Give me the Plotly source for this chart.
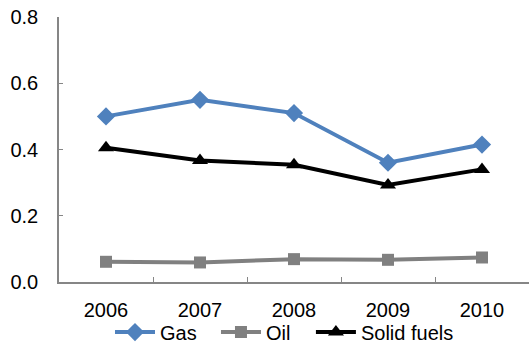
import plotly.graph_objects as go

years = ["2006", "2007", "2008", "2009", "2010"]
gas = [0.50, 0.55, 0.51, 0.36, 0.415]
oil = [0.061, 0.059, 0.069, 0.067, 0.074]
solid = [0.405, 0.367, 0.354, 0.293, 0.340]
y_ticks = [0.0, 0.2, 0.4, 0.6, 0.8]
y_labels = ["0.0", "0.2", "0.4", "0.6", "0.8"]

fig = go.Figure()
fig.add_trace(go.Scatter(x=years, y=gas, name="Gas", mode="lines+markers",
                         line=dict(color="#4F81BD", width=4), legend="legend",
                         marker=dict(symbol="diamond", size=14, color="#4F81BD")))
fig.add_trace(go.Scatter(x=years, y=oil, name="Oil", mode="lines+markers",
                         line=dict(color="#808080", width=4), legend="legend2",
                         marker=dict(symbol="square", size=12, color="#808080")))
fig.add_trace(go.Scatter(x=years, y=solid, name="Solid fuels", mode="lines+markers",
                         line=dict(color="#000000", width=4), legend="legend3",
                         marker=dict(symbol="triangle-up", size=14, color="#000000")))

leg = dict(orientation="h", xanchor="left", y=-0.189, yanchor="middle",
           font=dict(size=20), itemwidth=40, bgcolor="rgba(0,0,0,0)")

fig.update_layout(
    width=530, height=345,
    margin=dict(l=59, r=1, t=17, b=63, autoexpand=False),
    paper_bgcolor="white", plot_bgcolor="white",
    font=dict(family="Liberation Sans, Arial, sans-serif", size=20, color="black"),
    showlegend=True,
    legend=dict(leg, x=0.1085),
    legend2=dict(leg, x=0.334),
    legend3=dict(leg, x=0.536),
    xaxis=dict(type="category", range=[-0.5, 4.5], showgrid=False, showline=True,
               linecolor="#868686", linewidth=1.5, ticks="inside", tickson="boundaries",
               ticklen=5, tickcolor="#868686", tickwidth=1, zeroline=False,
               ticklabelstandoff=9, automargin=False),
    yaxis=dict(range=[0, 0.8], tickvals=y_ticks, ticktext=y_labels, showgrid=False,
               showline=True, linecolor="#868686", linewidth=1.5, ticks="inside",
               ticklen=4, tickcolor="#868686", zeroline=False, ticklabelstandoff=15,
               automargin=False),
)

fig.write_html("out.html", config={"displayModeBar": False},
               post_script="document.body.style.margin='0';document.body.style.overflow='hidden';")
